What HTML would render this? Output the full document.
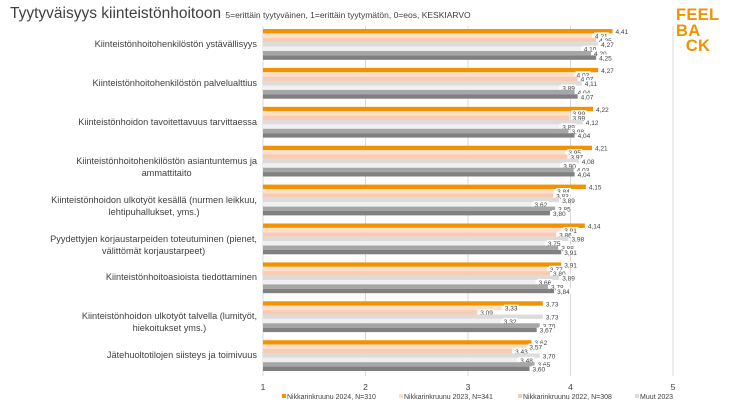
<!DOCTYPE html>
<html><head><meta charset="utf-8"><style>
body{margin:0;width:731px;height:411px;background:#fff;font-family:"Liberation Sans",sans-serif;position:relative;overflow:hidden}
.t{position:absolute;white-space:nowrap}
.c{position:absolute;right:474px;text-align:center;font-size:9.2px;line-height:12px;color:#404040;white-space:nowrap}
</style></head><body>
<div class="t" style="left:10px;top:5px;font-size:15.5px;color:#404040">Tyytyväisyys kiinteistönhoitoon <span style="font-size:8.5px">5=erittäin tyytyväinen, 1=erittäin tyytymätön, 0=eos, KESKIARVO</span></div>
<div class="t" style="left:676px;top:8px;font-size:16.5px;font-weight:bold;color:#f39200;line-height:15.5px;letter-spacing:0.3px">FEEL<br>BA<br>&nbsp;&nbsp;CK</div>
<div id="lab"></div>
<svg width="731" height="411" style="position:absolute;left:0;top:0" id="s" font-family="Liberation Sans, sans-serif"></svg>
<script>
(function(){
var D=[
["Kiinteistönhoitohenkilöstön ystävällisyys",[4.41,4.21,4.25,4.27,4.10,4.20,4.25]],
["Kiinteistönhoitohenkilöstön palvelualttius",[4.27,4.03,4.07,4.11,3.89,4.04,4.07]],
["Kiinteistönhoidon tavoitettavuus tarvittaessa",[4.22,3.99,3.99,4.12,3.89,3.98,4.04]],
["Kiinteistönhoitohenkilöstön asiantuntemus ja|ammattitaito",[4.21,3.95,3.97,4.08,3.90,4.03,4.04]],
["Kiinteistönhoidon ulkotyöt kesällä (nurmen leikkuu,|lehtipuhallukset, yms.)",[4.15,3.84,3.83,3.89,3.62,3.85,3.80]],
["Pyydettyjen korjaustarpeiden toteutuminen (pienet,|välittömät korjaustarpeet)",[4.14,3.91,3.86,3.98,3.75,3.88,3.91]],
["Kiinteistönhoitoasioista tiedottaminen",[3.91,3.77,3.80,3.89,3.66,3.78,3.84]],
["Kiinteistönhoidon ulkotyöt talvella (lumityöt,|hiekoitukset yms.)",[3.73,3.33,3.09,3.73,3.32,3.70,3.67]],
["Jätehuoltotilojen siisteys ja toimivuus",[3.62,3.57,3.43,3.70,3.48,3.65,3.60]]];
var C=["#f39200","#fde0cc","#f9cbb0","#dcdcdc","#f0f0f0","#a6a6a6","#808080"];
function X(v){return 263+(v-1)*102.5}
var h='',lab='';
for(var k=1;k<=5;k++){h+='<line x1="'+X(k)+'" y1="26" x2="'+X(k)+'" y2="376" stroke="#d9d9d9" stroke-width="1"/>';
h+='<text x="'+X(k)+'" y="390" font-size="8.5" text-anchor="middle" fill="#404040">'+k+'</text>';}
for(var i=0;i<9;i++){var gt=29+i*38.9;
lab+='<div class="c" style="top:'+(gt+9)+'px">'+D[i][0].replace('|','<br>')+'</div>';
var vals=D[i][1];
for(var j=0;j<vals.length;j++){var v=vals[j];var y=gt+j*4.4;h+='<rect x="263" y="'+y+'" width="'+(X(v)-263)+'" height="4.4" fill="'+C[j]+'"/>';
var s=v.toFixed(2).replace('.',',');h+='<rect x="'+(X(v)+2)+'" y="'+(y-1)+'" width="15" height="6" fill="#fff"/><text x="'+(X(v)+3)+'" y="'+(y+5)+'" font-size="6.5" fill="#404040">'+s+'</text>';}}
var L=[["Nikkarinkruunu 2024, N=310",C[0],282],["Nikkarinkruunu 2023, N=341",C[1],399],["Nikkarinkruunu 2022, N=308",C[2],518],["Muut 2023",C[3],635]];
for(var q=0;q<L.length;q++){var l=L[q];h+='<rect x="'+l[2]+'" y="394" width="4" height="4" fill="'+l[1]+'"/><text x="'+(l[2]+5)+'" y="399" font-size="7" fill="#404040">'+l[0]+'</text>';}
document.getElementById('s').innerHTML=h;
document.getElementById('lab').innerHTML=lab;
})();
</script>
</body></html>
